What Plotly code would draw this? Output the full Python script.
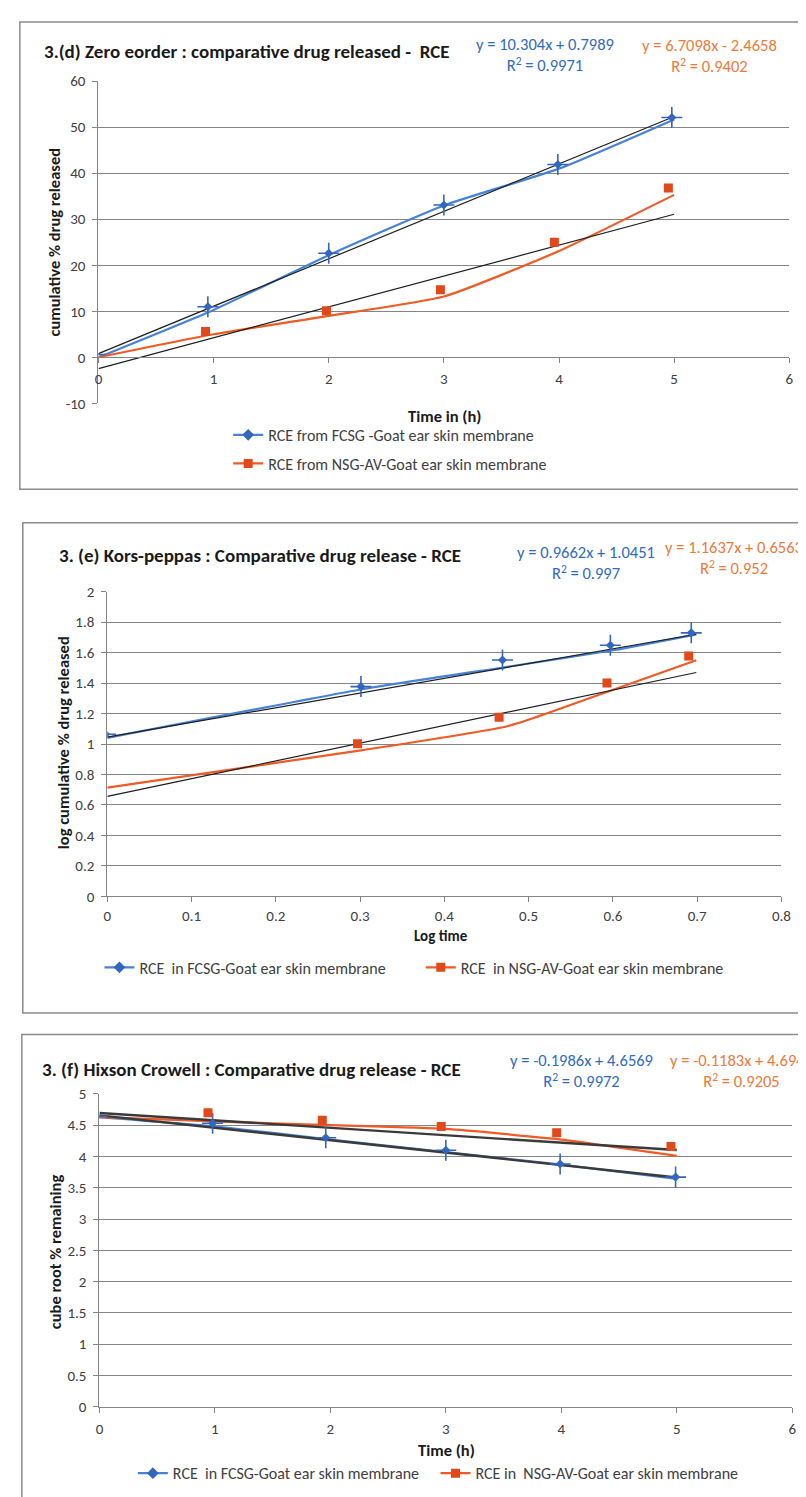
import plotly.graph_objects as go

W, H = 806, 1497
FONT = "Carlito, Calibri, 'Liberation Sans Narrow', 'Arial Narrow', sans-serif"

BLUE_LINE = "#4682D8"
BLUE_MK = "#3566BE"
BLUE_TXT = "#2F6BC0"
ORG_LINE = "#F05A24"
ORG_MK = "#E2491A"
ORG_TXT = "#EE7A3A"
TREND = "#1e1e1e"

# ---------------- data ----------------
# 3.(d) Zero order
time_h = [0, 1, 2, 3, 4, 5]
d_fcsg_line = [0, 10.3, 22.2, 33.0, 41.0, 51.7]
d_fcsg_pts_x = [-0.03, 0.95, 2.0, 3.0, 3.99, 4.98]
d_fcsg_pts_y = [0.6, 11.0, 22.6, 33.1, 41.9, 52.1]
d_nsg_line = [0, 5.0, 9.0, 13.2, 23.1, 35.3]
d_nsg_pts_x = [-0.07, 0.93, 1.98, 2.97, 3.96, 4.95]
d_nsg_pts_y = [1.5, 5.6, 10.1, 14.7, 25.0, 36.8]
d_fcsg_fit = (10.304, 0.7989, 0.9971)
d_nsg_fit = (6.7098, -2.4658, 0.9402)
d_yticks = [-10, 0, 10, 20, 30, 40, 50, 60]
d_yticklabels = ["-10", "0", "10", "20", "30", "40", "50", "60"]

# 3.(e) Korsmeyer-Peppas
log_time = [0, 0.301, 0.477, 0.602, 0.699]
e_fcsg_line = [1.04, 1.358, 1.509, 1.617, 1.72]
e_fcsg_pts_x = [-0.002, 0.301, 0.469, 0.597, 0.693]
e_fcsg_pts_y = [1.064, 1.377, 1.552, 1.648, 1.73]
e_nsg_line = [0.714, 0.958, 1.12, 1.36, 1.55]
e_nsg_pts_x = [-0.007, 0.297, 0.465, 0.593, 0.69]
e_nsg_pts_y = [0.774, 1.001, 1.176, 1.401, 1.578]
e_fcsg_fit = (0.9662, 1.0451, 0.997)
e_nsg_fit = (1.1637, 0.6563, 0.952)

# 3.(f) Hixson Crowell
f_fcsg_line = [4.63, 4.48, 4.27, 4.07, 3.87, 3.64]
f_fcsg_pts_x = [-0.02, 0.98, 1.96, 3.0, 3.99, 4.99]
f_fcsg_pts_y = [4.64, 4.53, 4.30, 4.10, 3.88, 3.67]
f_nsg_line = [4.63, 4.56, 4.50, 4.44, 4.27, 4.01]
f_nsg_pts_x = [-0.06, 0.94, 1.93, 2.96, 3.96, 4.95]
f_nsg_pts_y = [4.70, 4.70, 4.58, 4.48, 4.38, 4.16]
f_fcsg_fit = (-0.1986, 4.6569, 0.9972)
f_nsg_fit = (-0.1183, 4.6945, 0.9205)

titles = ["3.(d) Zero eorder : comparative drug released -  RCE",
          "3. (e) Kors-peppas : Comparative drug release - RCE",
          "3. (f) Hixson Crowell : Comparative drug release - RCE"]
xtitles = ["Time in (h)", "Log time", "Time (h)"]
ytitles = ["cumulative % drug released", "log cumulative % drug released", "cube root % remaining"]
legend_names = [
    ["RCE from FCSG -Goat ear skin membrane", "RCE from NSG-AV-Goat ear skin membrane"],
    ["RCE  in FCSG-Goat ear skin membrane", "RCE  in NSG-AV-Goat ear skin membrane"],
    ["RCE  in FCSG-Goat ear skin membrane", "RCE in  NSG-AV-Goat ear skin membrane"],
]


def px(x):
    return x / W


def py(y):
    return 1 - y / H


def eq_text(fit):
    m, b, r2 = fit
    sign = "+" if b >= 0 else "-"
    return f"y = {m:g}x {sign} {abs(b):g}<br>R<sup>2</sup> = {r2:g}"


fig = go.Figure()

panels = [
    dict(xa="x", ya="y", tx=time_h, fl=d_fcsg_line, fpx=d_fcsg_pts_x, fpy=d_fcsg_pts_y,
         nl=d_nsg_line, npx=d_nsg_pts_x, npy=d_nsg_pts_y, ff=d_fcsg_fit, nf=d_nsg_fit,
         tspan=[0, 5], tw=1.2),
    dict(xa="x2", ya="y2", tx=log_time, fl=e_fcsg_line, fpx=e_fcsg_pts_x, fpy=e_fcsg_pts_y,
         nl=e_nsg_line, npx=e_nsg_pts_x, npy=e_nsg_pts_y, ff=e_fcsg_fit, nf=e_nsg_fit,
         tspan=[0, 0.699], tw=1.2),
    dict(xa="x3", ya="y3", tx=time_h, fl=f_fcsg_line, fpx=f_fcsg_pts_x, fpy=f_fcsg_pts_y,
         nl=f_nsg_line, npx=f_nsg_pts_x, npy=f_nsg_pts_y, ff=f_fcsg_fit, nf=f_nsg_fit,
         tspan=[0, 5], tw=2.4),
]

legend_ids = [("legend", "legend2"), ("legend3", "legend4"), ("legend5", "legend6")]

for i, p in enumerate(panels):
    # series lines
    fig.add_trace(go.Scatter(x=p["tx"], y=p["fl"], mode="lines", xaxis=p["xa"], yaxis=p["ya"],
                             line=dict(color=BLUE_LINE, width=2.2, shape="spline", smoothing=0.5),
                             showlegend=False, hoverinfo="skip"))
    fig.add_trace(go.Scatter(x=p["tx"], y=p["nl"], mode="lines", xaxis=p["xa"], yaxis=p["ya"],
                             line=dict(color=ORG_LINE, width=2.2, shape="spline", smoothing=0.5),
                             showlegend=False, hoverinfo="skip"))
    # trendlines from displayed equations
    for fit in (p["ff"], p["nf"]):
        m, b, _ = fit
        fig.add_trace(go.Scatter(x=p["tspan"], y=[m * v + b for v in p["tspan"]], mode="lines",
                                 xaxis=p["xa"], yaxis=p["ya"],
                                 line=dict(color=TREND if p["tw"] < 2 else "#3a3a3a", width=p["tw"]),
                                 showlegend=False, hoverinfo="skip"))
    # markers: thin cross with small diamond core (sparkle)
    fig.add_trace(go.Scatter(x=p["fpx"], y=p["fpy"], mode="markers", xaxis=p["xa"], yaxis=p["ya"],
                             marker=dict(symbol="cross-thin", size=15,
                                         line=dict(color=BLUE_MK, width=1.6)),
                             showlegend=False, hoverinfo="skip"))
    fig.add_trace(go.Scatter(x=p["fpx"], y=p["fpy"], mode="markers", xaxis=p["xa"], yaxis=p["ya"],
                             marker=dict(symbol="diamond", size=7, color=BLUE_MK),
                             showlegend=False))
    fig.add_trace(go.Scatter(x=p["npx"], y=p["npy"], mode="markers", xaxis=p["xa"], yaxis=p["ya"],
                             marker=dict(symbol="square", size=9, color=ORG_MK),
                             showlegend=False))
    # legend entries
    fig.add_trace(go.Scatter(x=[None], y=[None], mode="lines+markers", name=legend_names[i][0],
                             xaxis=p["xa"], yaxis=p["ya"], legend=legend_ids[i][0],
                             line=dict(color=BLUE_LINE, width=2.2),
                             marker=dict(symbol="diamond", size=9, color=BLUE_MK)))
    fig.add_trace(go.Scatter(x=[None], y=[None], mode="lines+markers", name=legend_names[i][1],
                             xaxis=p["xa"], yaxis=p["ya"], legend=legend_ids[i][1],
                             line=dict(color=ORG_LINE, width=2.2),
                             marker=dict(symbol="square", size=9, color=ORG_MK)))

GRID = "#858585"
tickfont = dict(family=FONT, size=15, color="#404040")
ax_common = dict(showgrid=False, showline=True, linecolor=GRID, linewidth=1, ticks="outside",
                 ticklen=5, tickcolor=GRID, tickfont=tickfont, zeroline=False, fixedrange=True)
ay_common = dict(showgrid=True, gridcolor=GRID, gridwidth=1, showline=True, linecolor=GRID,
                 linewidth=1, ticks="outside", ticklen=5, tickcolor=GRID, tickfont=tickfont,
                 zeroline=False, fixedrange=True, ticklabelstandoff=4)

fig.update_layout(
    xaxis=dict(domain=[px(88), px(791)], range=[0, 6], dtick=1, anchor="free",
               position=py(344), ticklabelstandoff=3, **ax_common),
    yaxis=dict(domain=[py(391), py(65)], range=[-10, 60], tickvals=d_yticks,
               ticktext=d_yticklabels, anchor="x", **ay_common),
    xaxis2=dict(domain=[px(97), px(783)], range=[0, 0.8], dtick=0.1, anchor="y2",
                ticklabelstandoff=1, **ax_common),
    yaxis2=dict(domain=[py(890), py(581.7)], range=[0, 2], dtick=0.2, anchor="x2", **ay_common),
    xaxis3=dict(domain=[px(89), px(794)], range=[0, 6], dtick=1, anchor="y3",
                ticklabelstandoff=3, **ax_common),
    yaxis3=dict(domain=[py(1406.7), py(1090)], range=[0, 5], dtick=0.5, anchor="x3", **ay_common),
)

# borders
for (x0, y0, y1) in [(8, 5, 478), (11, 512, 1008), (10, 1030, 1520)]:
    fig.add_shape(type="rect", xref="paper", yref="paper", x0=px(x0), x1=px(830),
                  y0=py(y1), y1=py(y0), line=dict(color="#8c8c8c", width=1.5),
                  fillcolor="rgba(0,0,0,0)", layer="below")

ann = []
title_pos = [(31, 35), (46, 545), (28, 1065)]
for t, (x, y) in zip(titles, title_pos):
    ann.append(dict(text=t, x=px(x), y=py(y), xref="paper", yref="paper", xanchor="left",
                    yanchor="middle", showarrow=False,
                    font=dict(family=FONT, size=19, color="#1a1a1a", weight="bold")))
xt_pos = [(440, 404, 16.5), (437, 930, 15), (442, 1450, 16.5)]
for t, (x, y, s) in zip(xtitles, xt_pos):
    ann.append(dict(text=t, x=px(x), y=py(y), xref="paper", yref="paper", xanchor="center",
                    yanchor="middle", showarrow=False,
                    font=dict(family=FONT, size=s, color="#1a1a1a", weight="bold")))
yt_pos = [(43, 228), (52, 735), (44, 1250)]
for t, (x, y) in zip(ytitles, yt_pos):
    ann.append(dict(text=t, x=px(x), y=py(y), xref="paper", yref="paper", xanchor="center",
                    yanchor="middle", showarrow=False, textangle=-90,
                    font=dict(family=FONT, size=16.5, color="#1a1a1a", weight="bold")))
eq_pos = [((542, 37.5), (710, 38.5)), ((584, 552), (735, 547)), ((580, 1066), (742, 1066))]
for p, (bp, op) in zip(panels, eq_pos):
    ann.append(dict(text=eq_text(p["ff"]), x=px(bp[0]), y=py(bp[1]), xref="paper", yref="paper",
                    xanchor="center", yanchor="middle", showarrow=False, align="center",
                    font=dict(family=FONT, size=16.5, color=BLUE_TXT)))
    ann.append(dict(text=eq_text(p["nf"]), x=px(op[0]), y=py(op[1]), xref="paper", yref="paper",
                    xanchor="center", yanchor="middle", showarrow=False, align="center",
                    font=dict(family=FONT, size=16.5, color=ORG_TXT)))

fig.update_layout(annotations=ann)

leg_font = dict(family=FONT, size=16, color="#404040")
leg_pos = {"legend": (220, 423), "legend2": (220, 452), "legend3": (89, 962),
           "legend4": (416, 962), "legend5": (123, 1474), "legend6": (431, 1474)}
for lid, (x, y) in leg_pos.items():
    fig.update_layout({lid: dict(x=px(x), y=py(y), xanchor="left", yanchor="middle",
                                 bgcolor="rgba(0,0,0,0)", borderwidth=0, font=leg_font,
                                 orientation="h")})

fig.update_layout(width=W, height=H, margin=dict(l=0, r=0, t=0, b=0),
                  paper_bgcolor="white", plot_bgcolor="white", showlegend=True,
                  font=dict(family=FONT))

fig.write_html("out.html")
